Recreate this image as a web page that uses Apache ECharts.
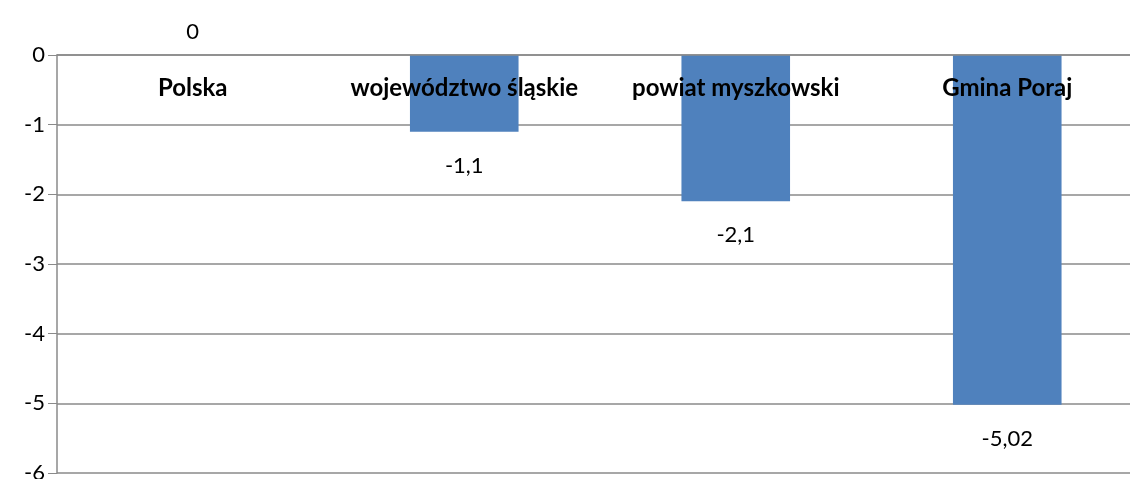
<!DOCTYPE html>
<html>
<head>
<meta charset="utf-8">
<script src="https://cdn.jsdelivr.net/npm/echarts@6/dist/echarts.min.js"></script>
<style>
  html, body { margin: 0; padding: 0; background: #fff; overflow: hidden; }
  #wrap { width: 1130px; height: 479px; overflow: hidden; position: relative; }
  #chart { width: 1143px; height: 479px; position: absolute; left: 0; top: 0; }
</style>
</head>
<body>
<div id="wrap"><div id="chart"></div></div>
<script>
// dane z wykresu
const categories = ['Polska', 'województwo śląskie', 'powiat myszkowski', 'Gmina Poraj'];
const values = [0, -1.1, -2.1, -5.02];
const valueLabels = ['0', '-1,1', '-2,1', '-5,02'];

const FONT = 'Lato, "Open Sans", sans-serif';
const GRID = '#8a8a8a';

const chart = echarts.init(document.getElementById('chart'));
chart.setOption({
  animation: false,
  grid: { left: 57, right: 0, top: 55, bottom: 6, outerBoundsMode: 'none', containLabel: false },
  xAxis: {
    type: 'category',
    position: 'top',
    z: 10,
    data: categories,
    axisLine: { lineStyle: { color: GRID, width: 1.5 } },
    axisTick: { inside: true, length: 6, lineStyle: { color: GRID } },
    axisLabel: {
      inside: true,
      interval: 0,
      margin: 21,
      color: '#000',
      fontFamily: FONT,
      fontWeight: 'bold',
      fontSize: 24
    }
  },
  yAxis: {
    type: 'value',
    min: -6,
    max: 0,
    interval: 1,
    axisLine: { show: true, lineStyle: { color: GRID, width: 1.5 } },
    axisTick: { show: true, length: 9, lineStyle: { color: GRID } },
    axisLabel: { margin: 12, color: '#000', fontFamily: FONT, fontSize: 22 },
    splitLine: { lineStyle: { color: GRID, width: 1.5 } }
  },
  series: [{
    type: 'bar',
    barCategoryGap: '60%',
    itemStyle: { color: '#4F81BD' },
    data: values.map((v, i) => ({
      value: v,
      label: {
        show: true,
        position: v === 0 ? 'top' : 'bottom',
        distance: v === 0 ? 12 : 23,
        formatter: valueLabels[i],
        color: '#000',
        fontFamily: FONT,
        fontSize: 22
      }
    }))
  }]
});
</script>
</body>
</html>
